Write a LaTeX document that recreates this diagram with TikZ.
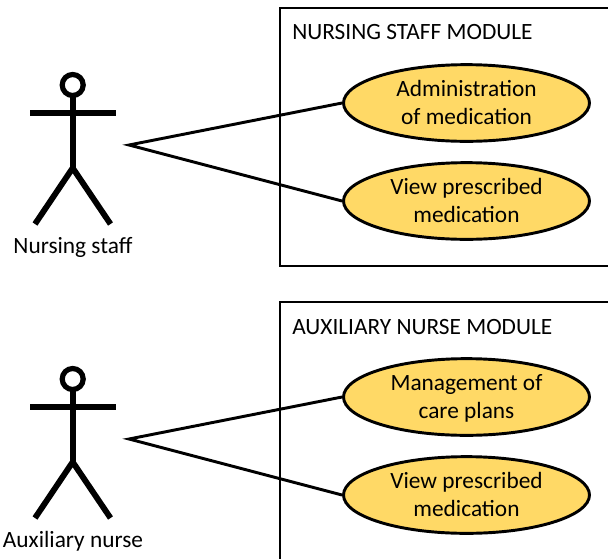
\documentclass[tikz,border=0pt]{standalone}
\usepackage{fontspec}
\setmainfont{Carlito}
\usetikzlibrary{shapes.geometric}
\definecolor{ucfill}{HTML}{FFD966}
\newcommand\liftline{\rule[-1.5pt]{0pt}{0pt}}
\tikzset{
 uc/.style={ellipse,draw=black,line width=2.2pt,fill=ucfill,minimum width=184.5pt,minimum height=57.5pt,inner sep=0pt,align=center,font=\fontsize{17.5}{21}\selectfont},
 lbl/.style={inner sep=0pt,font=\fontsize{17.5}{21}\selectfont},
 stick/.style={line width=4.4pt,draw=black},
 conn/.style={line width=2.2pt,draw=black},
 frame/.style={line width=2.1pt,draw=black}
}
\begin{document}
\begin{tikzpicture}[x=0.75pt,y=-0.75pt,line join=miter]
\useasboundingbox (0,0) rectangle (608,558);
\fill[white] (0,0) rectangle (608,558);
\draw[frame] (610,8) -- (280,8) -- (280,266) -- (610,266);
\draw[frame] (610,302) -- (280,302) -- (280,560);
\node[lbl,anchor=west] (t1) at (292,32) {NURSING STAFF MODULE};
\node[lbl,anchor=west] (t2) at (292,327) {AUXILIARY NURSE MODULE};
\node[uc] (a) at (466.5,103) {Administration\\of medication\liftline};
\node[uc] (b) at (466.5,201) {View prescribed\\medication\liftline};
\node[uc] (c) at (466.5,397) {Management of\\care \smash{p}lans\liftline};
\node[uc] (d) at (466.5,495) {View prescribed\\medication\liftline};
\coordinate (p1) at (129,145);
\coordinate (p2) at (129,439);
\draw[conn] (a.west) -- (p1) -- (b.west);
\draw[conn] (c.west) -- (p2) -- (d.west);
\foreach \y in {0,294}{
 \begin{scope}[yshift=-\y*0.75pt]
 \draw[stick,line width=3.9pt] (72.7,85) circle (10.5);
 \draw[stick] (72.7,96) -- (72.7,168);
 \draw[stick] (30,113) -- (116,113);
 \draw[stick] (35,224) -- (72.7,168) -- (110.5,224);
 \end{scope}
}
\node[lbl] (n1) at (73,247) {Nursing staff};
\node[lbl] (n2) at (73,541) {Auxiliary nurse};
\end{tikzpicture}
\end{document}
